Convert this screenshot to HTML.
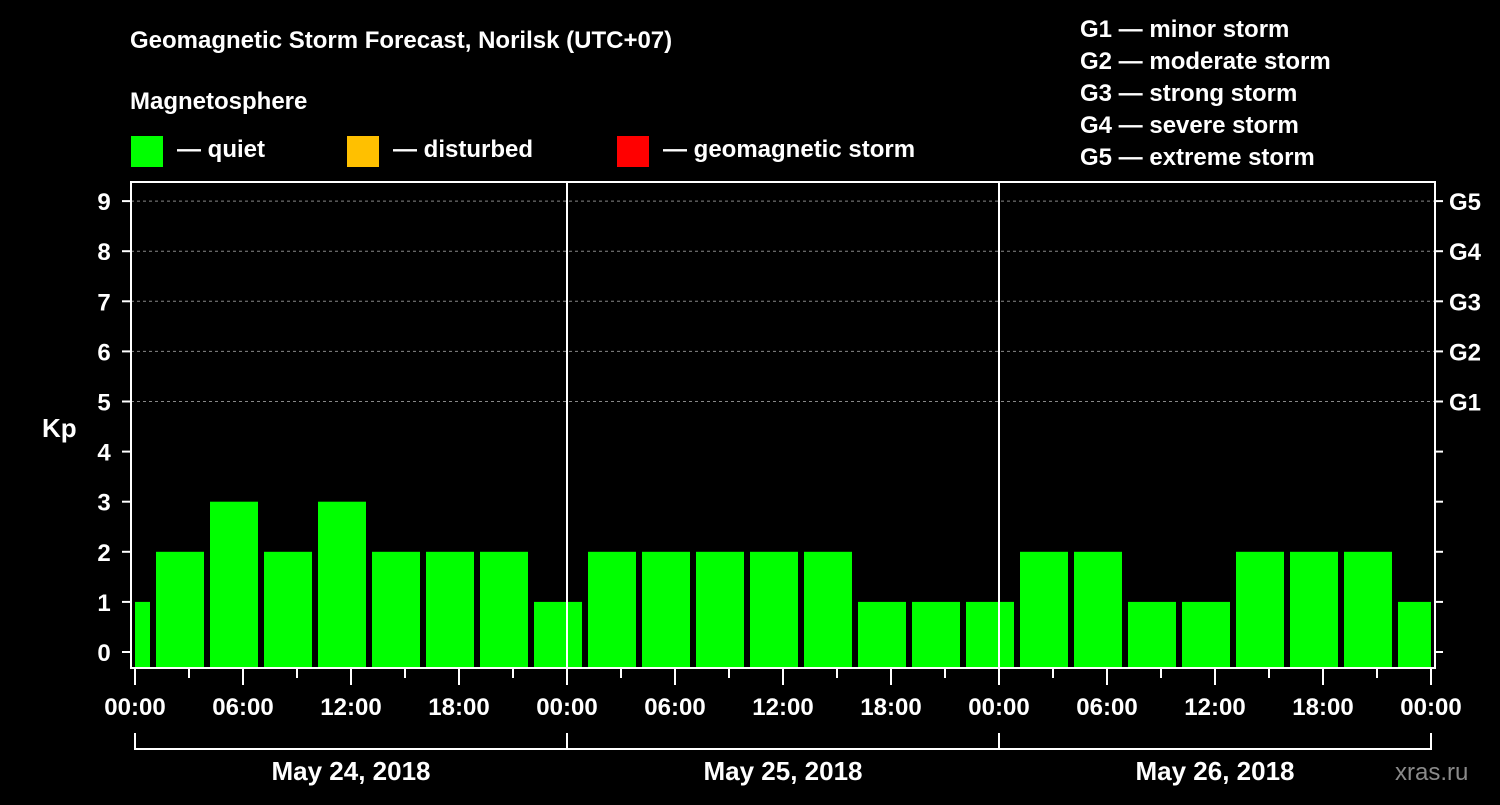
<!DOCTYPE html>
<html><head><meta charset="utf-8"><style>
body{margin:0;background:#000;width:1500px;height:800px;overflow:hidden}
svg text{font-family:"Liberation Sans",sans-serif;font-weight:bold;fill:#fff}
</style></head><body>
<svg id="c" width="1500" height="800">
<text x="130" y="48" font-size="24">Geomagnetic Storm Forecast, Norilsk (UTC+07)</text>
<text x="130" y="109" font-size="24">Magnetosphere</text>
<g><rect x="131" y="136" width="32" height="31" fill="#00ff00"/><text x="177" y="157" font-size="24">— quiet</text></g>
<g><rect x="347" y="136" width="32" height="31" fill="#ffc000"/><text x="393" y="157" font-size="24">— disturbed</text></g>
<g><rect x="617" y="136" width="32" height="31" fill="#ff0000"/><text x="663" y="157" font-size="24">— geomagnetic storm</text></g>
<g font-size="24">
<text x="1080" y="37">G1 — minor storm</text><text x="1080" y="69">G2 — moderate storm</text><text x="1080" y="101">G3 — strong storm</text><text x="1080" y="133">G4 — severe storm</text><text x="1080" y="165">G5 — extreme storm</text></g>
<text x="42" y="437" font-size="26">Kp</text>
<text x="1395" y="780" font-size="24" fill="#888" style="fill:#8a8a8a;font-weight:normal">xras.ru</text>
<g id="plot"></g>
</svg>
<script>
const values=[1,2,3,2,3,2,2,2,1,2,2,2,2,2,1,1,1,2,2,1,1,2,2,2,1];
const xTickLabels=["00:00","06:00","12:00","18:00","00:00","06:00","12:00","18:00","00:00","06:00","12:00","18:00","00:00"];
const dayLabels=["May 24, 2018","May 25, 2018","May 26, 2018"];
const gLabels=["G1","G2","G3","G4","G5"];
const NS="http://www.w3.org/2000/svg";
const g=document.getElementById('plot');
const X0=135,PXH=18,L=131,R=1435,T=182,B=668;
const x=h=>X0+h*PXH;
const y=v=>652-v*50.1;
function mk(t,a,p){const e=document.createElementNS(NS,t);for(const k in a)e.setAttribute(k,a[k]);(p||g).appendChild(e);return e;}
// grid
for(let v=5;v<=9;v++){const e=mk('line',{x1:L,x2:R,y1:y(v),y2:y(v),stroke:'#888','stroke-dasharray':'3,3','stroke-width':1});

}
// bars
values.forEach((v,i)=>{const c=-0.5+3*i;let a=Math.max(0,c-4/3),b=Math.min(72,c+4/3);
const e=mk('rect',{x:x(a),y:y(v),width:x(b)-x(a),height:B-1-y(v),fill:'#00ff00'});

});
// day separators
[1,2].forEach(d=>{const e=mk('line',{x1:x(24*d),x2:x(24*d),y1:T,y2:B,stroke:'#fff','stroke-width':2});

});
// frame
const fr=mk('rect',{x:L,y:T,width:R-L,height:B-T,fill:'none',stroke:'#fff','stroke-width':2});


// y ticks
for(let v=0;v<=9;v++){mk('line',{x1:122,x2:L,y1:y(v),y2:y(v),stroke:'#fff','stroke-width':2});
mk('line',{x1:R,x2:R+8,y1:y(v),y2:y(v),stroke:'#fff','stroke-width':2});
const t=mk('text',{x:104,y:y(v)+9,'font-size':24,'text-anchor':'middle'});t.textContent=v;

}
gLabels.forEach((s,i)=>{const t=mk('text',{x:1449,y:y(5+i)+9,'font-size':24});t.textContent=s;

});
// x ticks
for(let h=0;h<=72;h+=3){mk('line',{x1:x(h),x2:x(h),y1:B,y2:h%6==0?685:678,stroke:'#fff','stroke-width':2});}
xTickLabels.forEach((s,i)=>{const t=mk('text',{x:x(i*6),y:715,'font-size':24,'text-anchor':'middle'});t.textContent=s;

});
// day brackets
mk('line',{x1:x(0),x2:x(72),y1:749,y2:749,stroke:'#fff','stroke-width':2});
for(let d=0;d<=3;d++)mk('line',{x1:x(24*d),x2:x(24*d),y1:733,y2:750,stroke:'#fff','stroke-width':2});
dayLabels.forEach((s,i)=>{const t=mk('text',{x:x(24*i+12),y:780,'font-size':26,'text-anchor':'middle'});t.textContent=s;

});
</script>
</body></html>
